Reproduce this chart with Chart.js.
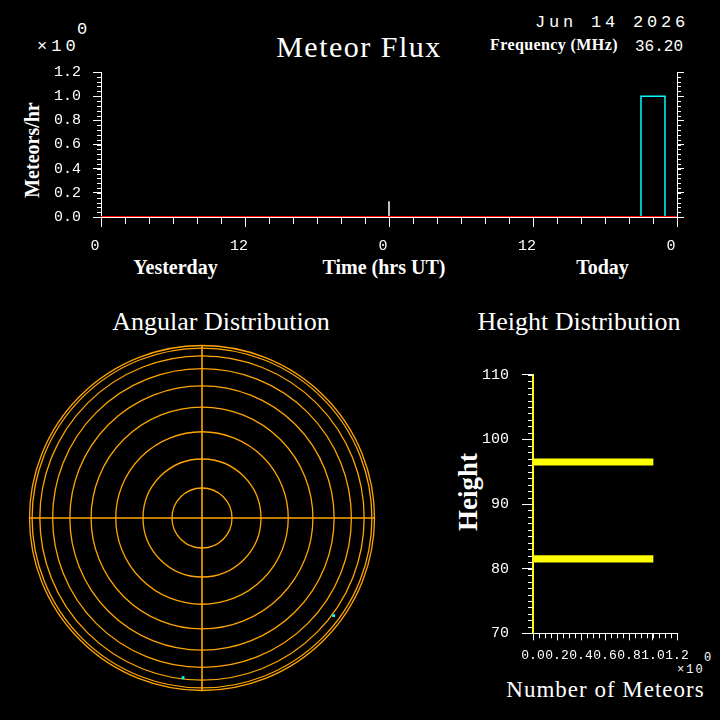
<!DOCTYPE html>
<html lang="en">
<head>
<meta charset="UTF-8">
<title>Meteor Flux</title>
<script src="https://cdn.jsdelivr.net/npm/chart.js@4.4.1/dist/chart.umd.min.js"></script>
<style>
  html, body { margin: 0; padding: 0; background: #000; }
  body { width: 720px; height: 720px; position: relative; overflow: hidden; color: #fff; }
  canvas { position: absolute; }
  .t { position: absolute; white-space: nowrap; line-height: 1; }
  .serif { font-family: 'Liberation Serif', 'DejaVu Serif', serif; }
  .mono { font-family: 'Liberation Mono', 'DejaVu Sans Mono', monospace; }
  .c { transform: translateX(-50%); }
  .rot { transform: translate(-50%, -50%) rotate(-90deg); }
</style>
</head>
<body>
  <div class="t mono" style="left:37px;top:38px;font-size:17px;letter-spacing:4px">×10</div>
  <div class="t mono" style="left:77px;top:21px;font-size:17px">0</div>
  <div class="t serif c" style="left:359px;top:32px;font-size:30px;letter-spacing:1.5px">Meteor Flux</div>
  <div class="t mono" style="left:535px;top:14px;font-size:17px;letter-spacing:3.8px">Jun 14 2026</div>
  <div class="t serif" style="left:490px;top:36.5px;font-size:16px;font-weight:bold;letter-spacing:0.4px">Frequency (MHz)</div>
  <div class="t mono" style="left:635px;top:38.5px;font-size:16px">36.20</div>
  <div class="t serif rot" style="left:31.5px;top:150px;font-size:20px;font-weight:bold">Meteors/hr</div>
  <div class="t serif c" style="left:175.5px;top:256.5px;font-size:20px;font-weight:bold">Yesterday</div>
  <div class="t serif c" style="left:384px;top:256.5px;font-size:20px;font-weight:bold">Time (hrs UT)</div>
  <div class="t serif c" style="left:602.5px;top:256.5px;font-size:20px;font-weight:bold">Today</div>
  <div class="t serif c" style="left:221px;top:309px;font-size:26px">Angular Distribution</div>
  <div class="t serif c" style="left:579px;top:309px;font-size:26px">Height Distribution</div>
  <div class="t serif rot" style="left:468px;top:492px;font-size:27px;font-weight:bold">Height</div>
  <div class="t serif c" style="left:605.5px;top:677.5px;font-size:23px;letter-spacing:1px">Number of Meteors</div>
  <div class="t mono" style="left:677px;top:663.5px;font-size:12px;letter-spacing:2px">×10</div>
  <div class="t mono" style="left:704px;top:651.5px;font-size:12px">0</div>

  <canvas id="flux" width="720" height="300" style="left:0;top:0"></canvas>
  <canvas id="angular" width="410" height="370" style="left:0;top:340px"></canvas>
  <canvas id="height" width="280" height="390" style="left:440px;top:330px"></canvas>

<script>
// meteors per hour, hourly bins, yesterday 0h .. today 24h
const fluxRate = [
  0, 0, 0, 0, 0, 0, 0, 0, 0, 0, 0, 0,
  0, 0, 0, 0, 0, 0, 0, 0, 0, 0, 0, 0,
  0, 0, 0, 0, 0, 0, 0, 0, 0, 0, 0, 0,
  0, 0, 0, 0, 0, 0, 0, 0, 0, 1, 1, 0
]
const baseHours = [0, 48]
const midnightHour = 24
const midnightMark = 0.13
const timeTickLabels = ['0', '12', '0', '12', '0']

// angular distribution (projected zenith position)
const meteorX = [-0.110, 0.763]
const meteorY = [-0.926, -0.566]
const ringRadii = [0.174, 0.342, 0.5, 0.643, 0.766, 0.866, 0.940, 0.985, 1.0]

// height distribution (km)
const heightBins = [96.5, 81.5]
const heightCounts = [1, 1]

const MONO = "'Liberation Mono', 'DejaVu Sans Mono', monospace"
const WHITE = '#ffffff'

const minorTicks = {
  id: 'minorTicks',
  afterDraw(chart, args, opts) {
    const ctx = chart.ctx
    ;(opts.axes || []).forEach(a => {
      const s = chart.scales[a.id]
      const n = Math.round((s.max - s.min) / a.step)
      ctx.save()
      ctx.strokeStyle = WHITE
      ctx.lineWidth = 1
      ctx.beginPath()
      for (let i = 0; i <= n; i++) {
        const p = Math.round(s.getPixelForValue(s.min + i * a.step)) + 0.5
        if (s.isHorizontal()) {
          ctx.moveTo(p, s.top); ctx.lineTo(p, s.top + a.len)
        } else if (s.position === 'left') {
          ctx.moveTo(s.right, p); ctx.lineTo(s.right - a.len, p)
        } else {
          ctx.moveTo(s.left, p); ctx.lineTo(s.left + a.len, p)
        }
      }
      ctx.stroke()
      ctx.restore()
    })
  }
}

const zenithRings = {
  id: 'zenithRings',
  beforeDatasetsDraw(chart) {
    const { ctx, scales: { x, y } } = chart
    const cx = x.getPixelForValue(0)
    const cy = y.getPixelForValue(0)
    const unit = x.getPixelForValue(1) - cx
    ctx.save()
    ctx.strokeStyle = '#ffa500'
    ctx.lineWidth = 1.3
    ringRadii.forEach(r => {
      ctx.beginPath()
      ctx.arc(cx, cy, r * unit, 0, Math.PI * 2)
      ctx.stroke()
    })
    ctx.lineWidth = 1.6
    ctx.beginPath()
    ctx.moveTo(x.getPixelForValue(-1), cy); ctx.lineTo(x.getPixelForValue(1), cy)
    ctx.moveTo(cx, y.getPixelForValue(1)); ctx.lineTo(cx, y.getPixelForValue(-1))
    ctx.stroke()
    ctx.restore()
  }
}

const axisGrid = (len) => ({ drawOnChartArea: false, drawTicks: true, tickLength: len, color: WHITE, tickColor: WHITE })
const tickFont = (size) => ({ family: MONO, size: size })

// Meteor flux
const fluxPoints = fluxRate.map((v, i) => ({ x: i, y: v }))
fluxPoints.push({ x: fluxRate.length, y: fluxRate[fluxRate.length - 1] })

new Chart(document.getElementById('flux'), {
  type: 'line',
  data: {
    datasets: [
      { label: 'zero', data: baseHours.map(h => ({ x: h, y: 0 })), borderColor: '#ff0000', borderWidth: 2, pointRadius: 0 },
      { label: 'midnight', data: [{ x: midnightHour, y: 0 }, { x: midnightHour, y: midnightMark }], borderColor: WHITE, borderWidth: 1.5, pointRadius: 0 },
      { label: 'flux', data: fluxPoints, stepped: 'before', borderColor: '#00ffff', borderWidth: 1.5, pointRadius: 0 }
    ]
  },
  options: {
    responsive: false,
    animation: false,
    layout: { padding: { left: 0, top: 72, right: 23, bottom: 38 } },
    plugins: {
      legend: { display: false },
      tooltip: { enabled: false },
      minorTicks: { axes: [{ id: 'x', step: 2, len: 7 }, { id: 'y', step: 0.04, len: 4 }, { id: 'y2', step: 0.04, len: 4 }] }
    },
    scales: {
      x: {
        type: 'linear', min: 0, max: 48, position: 'bottom',
        afterFit: s => { s.height = 45 },
        ticks: { stepSize: 12, callback: v => timeTickLabels[v / 12], color: WHITE, font: tickFont(15), padding: 10, labelOffset: -6, maxRotation: 0, autoSkip: false },
        grid: axisGrid(10),
        border: { color: WHITE, width: 1 }
      },
      y: {
        min: 0, max: 1.2, position: 'left',
        afterFit: s => { s.width = 101 },
        ticks: { stepSize: 0.2, callback: v => v.toFixed(1), color: WHITE, font: tickFont(15), padding: 12 },
        grid: axisGrid(8),
        border: { color: WHITE, width: 1 }
      },
      y2: {
        min: 0, max: 1.2, position: 'right',
        afterFit: s => { s.width = 20 },
        ticks: { stepSize: 0.2, display: false },
        grid: axisGrid(7),
        border: { color: WHITE, width: 1 }
      }
    }
  },
  plugins: [minorTicks]
})

// Angular distribution
new Chart(document.getElementById('angular'), {
  type: 'scatter',
  data: {
    datasets: [{ data: meteorX.map((x, i) => ({ x: x, y: meteorY[i] })), pointStyle: 'rect', pointRadius: 2, backgroundColor: '#00ffff', borderColor: '#00ffff', borderWidth: 0 }]
  },
  options: {
    responsive: false,
    animation: false,
    layout: { padding: { left: 29.5, right: 35.5, top: 5.5, bottom: 19.5 } },
    plugins: { legend: { display: false }, tooltip: { enabled: false } },
    scales: {
      x: { display: false, min: -1, max: 1 },
      y: { display: false, min: -1, max: 1 }
    }
  },
  plugins: [zenithRings]
})

// Height distribution
new Chart(document.getElementById('height'), {
  type: 'bar',
  data: {
    datasets: [{ data: heightBins.map((h, i) => ({ x: heightCounts[i], y: h })), backgroundColor: '#ffff00', barThickness: 6.5, borderWidth: 0 }]
  },
  options: {
    indexAxis: 'y',
    responsive: false,
    animation: false,
    layout: { padding: { left: 0, top: 44.7, right: 43, bottom: 46.7 } },
    plugins: {
      legend: { display: false },
      tooltip: { enabled: false },
      minorTicks: { axes: [{ id: 'x', step: 0.05, len: 5 }, { id: 'y', step: 1, len: 5 }] }
    },
    scales: {
      x: {
        type: 'linear', min: 0, max: 1.2, position: 'bottom',
        afterFit: s => { s.height = 40 },
        ticks: { stepSize: 0.2, callback: v => v.toFixed(1), color: WHITE, font: tickFont(13), padding: 7, maxRotation: 0, autoSkip: false },
        grid: axisGrid(7),
        border: { color: WHITE, width: 1 }
      },
      y: {
        type: 'linear', min: 70, max: 110, position: 'left', offset: false,
        afterFit: s => { s.width = 93 },
        ticks: { stepSize: 10, color: WHITE, font: tickFont(15), padding: 13 },
        grid: Object.assign(axisGrid(11), { offset: false }),
        border: { color: '#ffff00', width: 2 }
      }
    }
  },
  plugins: [minorTicks]
})
</script>
</body>
</html>
